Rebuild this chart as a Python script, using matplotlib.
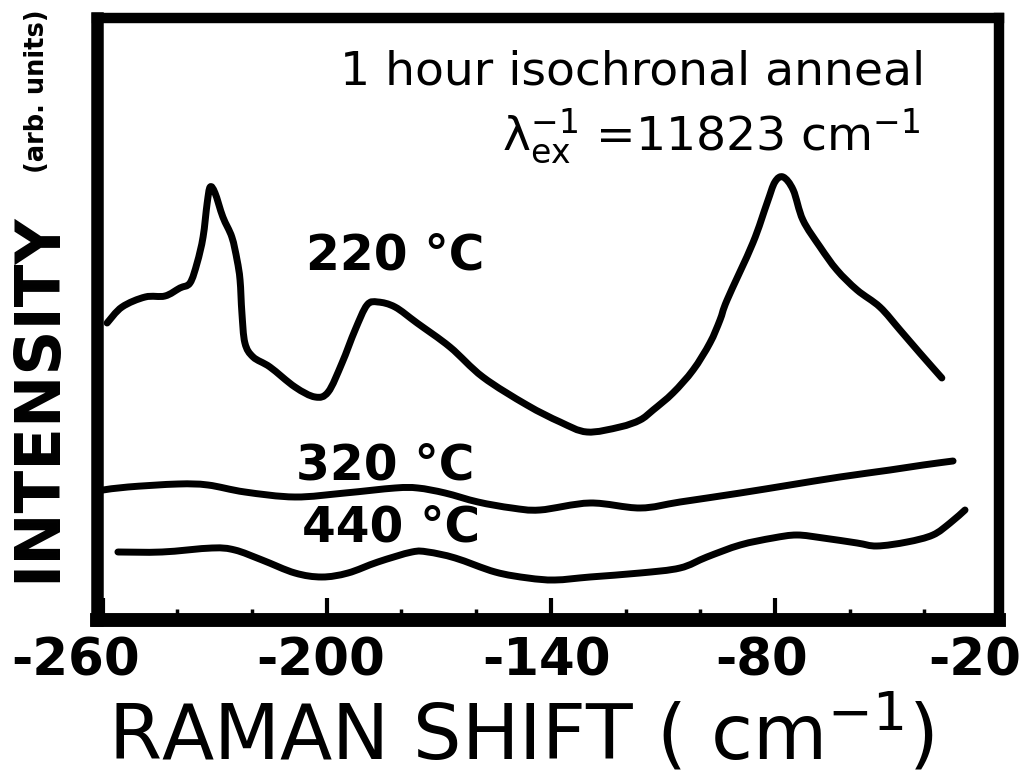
import matplotlib
matplotlib.use("Agg")
import matplotlib.pyplot as plt
import numpy as np
from matplotlib.path import Path
from matplotlib.patches import PathPatch
from matplotlib.transforms import ScaledTranslation

plt.rcParams['font.family'] = ['DejaVu Sans']
plt.rcParams['mathtext.fontset'] = 'dejavusans'

# ---- data (Raman shift in cm^-1, intensity in arbitrary units) ----
shift_220 = [-258.8, -254.8, -248.6, -243.3, -239.3, -236.6, -234.7, -233.1, -232.0,
             -231.2, -229.9, -227.8, -225.4, -224.0, -223.2, -222.7, -221.9, -219.7,
             -215.2, -208.5, -203.1, -199.6, -195.9, -192.4, -189.2, -186.3, -181.7,
             -175.8, -167.0, -158.2, -146.4, -137.5, -130.3, -121.5, -116.1, -112.6,
             -107.3, -101.9, -97.4, -94.7, -92.8, -85.9, -82.1, -80.0, -77.8, -75.1,
             -72.5, -67.9, -63.4, -58.0, -51.9, -46.5, -41.2, -35.3]
int_220 = [297, 313, 323, 324, 332, 337, 357, 383, 417,
           433, 427, 403, 383, 360, 340, 307, 277, 263,
           253, 233, 223, 228, 257, 290, 315, 318, 313,
           297, 273, 243, 215, 198, 188, 193, 200, 210,
           227, 250, 277, 300, 320, 377, 417, 438, 443, 430,
           400, 373, 350, 330, 313, 290, 267, 242]

shift_320 = [-259.9, -253.2, -239.8, -231.8, -221.9, -208.5, -195.1, -181.7, -175.6,
             -168.3, -159.5, -150.4, -142.9, -129.5, -116.1, -105.4, -89.3, -76.0,
             -62.6, -49.2, -40.3, -32.3]
int_320 = [130, 133, 136, 135, 128, 123, 127, 132, 132,
           127, 118, 112, 110, 117, 112, 118, 127, 135,
           143, 150, 155, 159]

shift_440 = [-255.9, -244.1, -230.7, -224.6, -217.3, -208.5, -201.3, -194.3, -186.3,
             -177.2, -172.9, -165.6, -154.9, -146.1, -138.9, -129.5, -116.1, -105.4,
             -98.2, -89.3, -80.5, -74.1, -67.1, -58.0, -52.7, -44.6, -37.7, -33.1, -29.1]
int_440 = [68, 68, 72, 70, 60, 47, 43, 47, 58,
           68, 68, 62, 48, 42, 40, 43, 47, 52,
           63, 75, 82, 85, 82, 77, 74, 78, 85, 97, 110]

major_ticks = [-260, -200, -140, -80, -20]
major_labels = ['-260', '-200', '-140', '-80', '-20']
minor_ticks = [-240, -220, -180, -160, -120, -100, -60, -40]

curve_labels = ['220 °C', '320 °C', '440 °C']


def smooth_curve(xs, ys):
    """Path through the measured points drawn with cubic Bezier segments."""
    p = np.column_stack([xs, ys]).astype(float)
    n = len(p)
    verts = [p[0]]
    codes = [Path.MOVETO]
    for i in range(n - 1):
        p0 = p[i - 1] if i > 0 else p[i]
        p1 = p[i]
        p2 = p[i + 1]
        p3 = p[i + 2] if i + 2 < n else p[i + 1]
        verts += [p1 + (p2 - p0) / 6.0, p2 - (p3 - p1) / 6.0, p2]
        codes += [Path.CURVE4] * 3
    return Path(verts, codes)


# ---- figure ----
fig = plt.figure(figsize=(10.32, 7.84), dpi=100)
ax = fig.add_axes([97 / 1032, 1 - 620 / 784, 902 / 1032, 602 / 784])

for xs, ys in [(shift_220, int_220), (shift_320, int_320), (shift_440, int_440)]:
    ax.add_patch(PathPatch(smooth_curve(xs, ys), fill=False, edgecolor='black',
                           lw=5.0, capstyle='round', joinstyle='round'))

ax.set_xlim(-261.5, -20)
ax.set_ylim(0, 602)

# frame
for name, w in [('left', 9), ('right', 7.5), ('top', 7.5), ('bottom', 10)]:
    sp = ax.spines[name]
    sp.set_linewidth(w)
    sp.set_capstyle('projecting')

# ticks
ax.set_xticks(major_ticks)
ax.set_xticklabels(major_labels)
ax.set_xticks(minor_ticks, minor=True)
ax.tick_params(axis='x', which='major', direction='in', length=16, width=3,
               labelsize=37, pad=12, top=False)
ax.tick_params(axis='x', which='minor', direction='in', length=8, width=2.5,
               top=False)
ax.set_yticks([])
label_shift_px = [-27, -6, -4, -13, -24]
for lab, dx in zip(ax.get_xticklabels(), label_shift_px):
    lab.set_fontweight('bold')
    lab.set_transform(lab.get_transform() +
                      ScaledTranslation(dx / 100, 0, fig.dpi_scale_trans))

# axis labels
ax.set_xlabel(r'RAMAN SHIFT ( cm$^{-1}$)', fontsize=55, va='center')
ax.xaxis.set_label_coords(0.47, -0.19)

ax.text(-0.065, 0.37, 'INTENSITY', transform=ax.transAxes, rotation=90,
        ha='center', va='center', fontsize=45, fontweight='bold')
ax.text(-0.066, 0.878, '(arb. units)', transform=ax.transAxes, rotation=90,
        ha='center', va='center', fontsize=18.5, fontweight='bold')

# annotations
ax.text(0.594, 0.889, '1 hour isochronal anneal', transform=ax.transAxes,
        ha='center', va='baseline', fontsize=34)
ax.text(0.681, 0.781, r'$\mathrm{\lambda}_{\mathrm{ex}}^{-1}$ =11823 cm$^{-1}$',
        transform=ax.transAxes, ha='center', va='baseline', fontsize=34)

for lab, (xa, ya) in zip(curve_labels, [(0.331, 0.606), (0.32, 0.257), (0.326, 0.153)]):
    ax.text(xa, ya, lab, transform=ax.transAxes, ha='center', va='center',
            fontsize=35, fontweight='bold')

fig.savefig('out.png', dpi=100)
